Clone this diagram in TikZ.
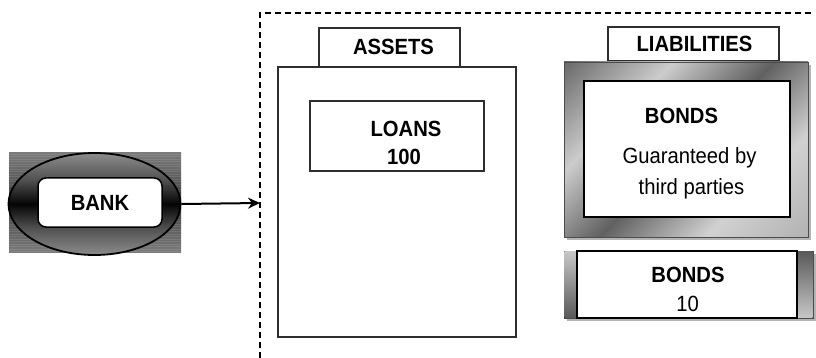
\documentclass[tikz,border=0pt]{standalone}
\usepackage{fontspec}
\setmainfont{Liberation Sans}[FakeStretch=0.92]
\usetikzlibrary{arrows.meta,shapes.geometric}

\definecolor{edgegray}{HTML}{2E2E2E}
\definecolor{shadowgray}{HTML}{B4B4B4}

% bevelled frame: diagonal bands of dark and light gray
\pgfdeclarehorizontalshading{bevel}{100bp}{%
  color(0bp)=(black!60); color(15bp)=(black!58); color(33bp)=(black!20);
  color(50bp)=(black!62); color(68bp)=(black!18); color(85bp)=(black!30);
  color(100bp)=(black!30)}
% dark ring round the bank, black along its middle
\pgfdeclareverticalshading{ring}{100bp}{%
  color(0bp)=(black!45); color(25bp)=(black!45); color(38bp)=(black!68);
  color(46bp)=(black!88); color(50bp)=(black!98); color(54bp)=(black!88);
  color(62bp)=(black!68); color(75bp)=(black!45); color(100bp)=(black!45)}
% plate behind the ring
\pgfdeclareverticalshading{plate}{100bp}{%
  color(0bp)=(black!52); color(25bp)=(black!52); color(40bp)=(black!66);
  color(50bp)=(black!85); color(60bp)=(black!66); color(75bp)=(black!52);
  color(100bp)=(black!52)}
% end strips of the small bonds frame
\pgfdeclareverticalshading{stripup}{100bp}{%
  color(0bp)=(black!65); color(25bp)=(black!65); color(75bp)=(black!22);
  color(100bp)=(black!22)}
\pgfdeclareverticalshading{stripdown}{100bp}{%
  color(0bp)=(black!22); color(25bp)=(black!22); color(75bp)=(black!65);
  color(100bp)=(black!65)}

\tikzset{
  txt/.style={font=\fontsize{22}{26}\selectfont},
  bold/.style={font=\fontsize{22}{26}\selectfont\bfseries},
  lbl/.style={anchor=base, inner sep=0pt},
  box/.style={draw=edgegray, line width=1.9pt, fill=white, inner sep=0pt},
  tab/.style={draw=edgegray, line width=1.6pt, fill=white, inner sep=0pt},
  frame/.style={draw=black!70, line width=0.7pt, inner sep=0pt},
  link/.style={line width=2pt, -{Stealth[length=12pt,width=11pt]}},
  fence/.style={line width=2pt, dash pattern=on 6pt off 4pt},
}

\begin{document}
\begin{tikzpicture}[x=1pt,y=-1pt]
\useasboundingbox (0,0) rectangle (816,358);

% dashed boundary of the balance sheet
\coordinate (fencebottom) at (260,358);
\coordinate (fencecorner) at (260,13);
\coordinate (fenceend) at (811,13);
\draw[fence] (fencebottom) -- (fencecorner) -- (fenceend);

% ---- bank ----
\node[minimum width=172pt, minimum height=99pt, inner sep=0pt,
      shade, shading=plate] (plate) at (95,202.5) {};
\begin{scope}
  \clip (plate.north west) rectangle (plate.south east);
  \foreach \k in {0,...,39}
    \draw[white, opacity=0.10, line width=0.8pt]
      (9,{154+2.5*\k}) -- (181,{154+2.5*\k});
\end{scope}
\node[ellipse, draw=black, line width=1.8pt, minimum width=172pt,
      minimum height=102pt, inner sep=0pt, shade, shading=ring]
      (bankring) at (94.5,204) {};
\node[draw=black, line width=1.5pt, fill=white, rounded corners=8pt,
      minimum width=124pt, minimum height=49pt, inner sep=0pt, bold]
      (bank) at (100,202.5) {BANK};

\coordinate (entry) at (260,203);
\draw[link] (bankring.east) -- (entry);

% ---- assets ----
\node[box, minimum width=238pt, minimum height=270pt] (assets) at (397,202) {};
\node[tab, minimum width=141pt, minimum height=39pt] (assetstab) at (389.5,47.5) {};
\node[lbl, bold] (assetslbl) at (393.5,55) {ASSETS};
\node[tab, minimum width=174pt, minimum height=70pt] (loans) at (397,136) {};
\node[lbl, bold] (loanslbl) at (406,136.4) {LOANS};
\node[lbl, bold] (loansval) at (404,164.9) {100};

% ---- liabilities ----
\node[tab, minimum width=171pt, minimum height=34pt] (liabtab) at (693.5,44) {};
\node[lbl, bold] (liablbl) at (694.5,51.9) {LIABILITIES};

\fill[shadowgray] (567,65) rectangle (811,240);
\node[frame, minimum width=244pt, minimum height=175pt, shade, shading=bevel,
      shading angle=-45] (guarframe) at (686,149.5) {};
\node[draw=black, line width=1.8pt, fill=white, inner sep=0pt,
      minimum width=206pt, minimum height=136pt] (guar) at (687,149) {};
\node[lbl, bold] (guarlbl) at (681.5,123.4) {BONDS};
\node[lbl, txt] (guarline1) at (689.5,163.9) {Guaranteed by};
\node[lbl, txt] (guarline2) at (691.5,194.4) {third parties};

\fill[shadowgray] (567,254) rectangle (816,321);
\node[frame, minimum width=249pt, minimum height=67pt, fill=black!30]
      (plainframe) at (688.5,284.5) {};
\fill[shading=stripup, shade] (564.4,251.4) rectangle (577,317.6);
\fill[shading=stripdown, shade] (797,251.4) rectangle (812.6,317.6);
\node[draw=black, line width=1.8pt, fill=white, inner sep=0pt,
      minimum width=220pt, minimum height=67pt] (plain) at (687,284.5) {};
\node[lbl, bold] (plainlbl) at (688,282.9) {BONDS};
\node[lbl, txt] (plainval) at (687.5,311.4) {10};
\end{tikzpicture}
\end{document}
